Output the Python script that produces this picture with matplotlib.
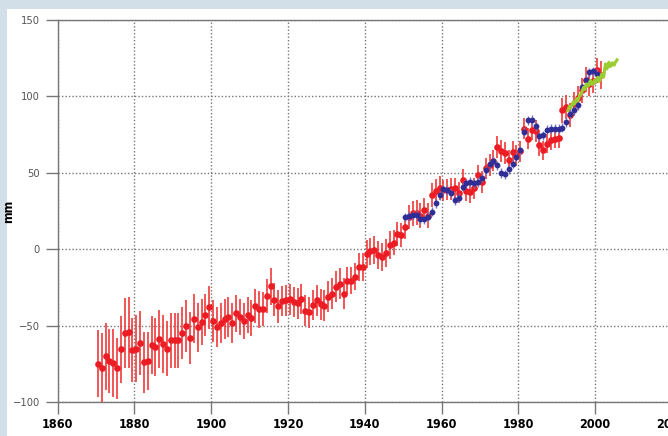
import numpy as np
import matplotlib.pyplot as plt
from matplotlib.patches import Rectangle

plt.rcParams['font.family'] = ['DejaVu Sans']
plt.rcParams['font.stretch'] = 'condensed'

# Reconstruction (red), annual values 1870-2001
red_years = np.arange(1870, 2002)
red_mm = [
    -75, -78, -70, -73, -74.5, -78, -65.5, -55, -54.5, -66,
    -65, -61.5, -74, -73, -62.5, -64, -59, -62, -65, -59.5,
    -59.5, -59.5, -55, -50, -58, -45.5, -51, -47.5, -43, -38,
    -47, -51, -48.5, -45.5, -44.4, -48.3, -42, -44.4, -47, -43,
    -45, -37, -39.3, -39, -30.7, -24.4, -33, -37.4, -34, -33.5,
    -32.8, -34.6, -35.5, -32.5, -40.3, -41.4, -36.4, -33.5, -36.1, -37,
    -31, -29, -24.5, -22.6, -29, -20.5, -20.5, -17.9, -11.7, -11.7,
    -3.1, -1.5, -0.5, -3.9, -5, -2.6, 2.6, 4.3, 10, 9.3,
    14.7, 21, 23.5, 24, 22, 25.6, 22, 35.4, 38, 40,
    38.5, 39, 39.5, 39.8, 37, 45.2, 38.3, 37.5, 39.8, 48.4,
    44, 53, 55, 58, 66.9, 64.3, 63, 58.2, 63.6, 61.5,
    64, 78.9, 72.3, 78.2, 77.3, 68, 64.7, 69.1, 71.2, 72.3,
    73, 90.8, 93, 88, 95, 99, 104, 111, 108, 110,
    117, 114,
]
red_err = [
    22, 23, 22, 21, 22, 20, 22, 23, 23, 21,
    22, 21, 20, 19, 19, 19, 19, 19, 18, 18,
    18, 18, 17, 17, 17, 16, 16, 15, 14, 14,
    14, 13, 13, 13, 13, 13, 12, 12, 12, 12,
    12, 11, 12, 11, 11, 12, 11, 11, 10, 10,
    10, 10, 10, 10, 10, 10, 10, 10, 10, 10,
    10, 10, 10, 10, 10, 9, 9, 9, 9, 9,
    9, 9, 9, 9, 9, 9, 9, 8, 8, 8,
    8, 8, 8, 8, 8, 8, 8, 8, 8, 8,
    7, 7, 7, 7, 7, 7, 7, 7, 7, 7,
    7, 7, 7, 7, 7, 7, 7, 7, 7, 7,
    7, 7, 7, 7, 7, 7, 6, 6, 6, 6,
    7, 8, 8, 8, 8, 8, 8, 8, 8, 8,
    8, 9,
]

# Tide gauge series (blue), 1950-2000
blue_years = np.arange(1950, 2001)
blue_mm = [
    20.8, 21.7, 22.1, 22.5, 19.5, 19.5, 21.2, 24.5, 30, 35.4,
    39.1, 38.7, 36.5, 32.1, 33.6, 40.8, 43, 44, 43, 44,
    46.9, 51.7, 55.6, 57.8, 54.8, 49.9, 49.1, 52.2, 56, 60.4,
    64.7, 76.7, 84.3, 84.5, 80.5, 74, 74.5, 78.2, 78.9, 78.9,
    78.9, 79.5, 83.2, 88.7, 90.8, 94.1, 106, 110.8, 115.8, 116.4,
    114.7,
]
blue_err = [3] * len(blue_mm)

# Satellite altimetry (green)
green_t = [1992.9, 1993.3, 1993.6, 1994.0, 1994.3, 1994.6, 1994.9, 1995.2,
           1995.5, 1995.7, 1996.0, 1996.4, 1996.7, 1997.0, 1997.3, 1997.7,
           1998.0, 1998.3, 1998.6, 1998.8, 1999.1, 1999.5, 1999.8, 2000.1,
           2000.4, 2000.7, 2001.0, 2001.2, 2001.5, 2001.8, 2002.1, 2002.3,
           2002.5, 2002.7, 2002.9, 2003.1, 2003.4, 2003.6, 2003.9, 2004.2,
           2004.5, 2004.7, 2005.0, 2005.2, 2005.5, 2005.7]
green_mm = [90.8, 93.5, 92.5, 94.1, 96.5, 95.0, 96.2, 98.5,
            97.2, 98.4, 101.0, 101.7, 104.0, 106.0, 104.5, 108.2,
            106.5, 107.1, 109.5, 110.4, 107.8, 108.2, 110.5, 109.3,
            111.0, 112.5, 109.8, 110.4, 113.0, 114.7, 112.5, 113.6,
            118.0, 121.2, 119.0, 118.0, 121.0, 122.3, 119.5, 120.1,
            122.0, 121.2, 120.5, 122.1, 123.0, 123.9]

x_ticks = [1860, 1880, 1900, 1920, 1940, 1960, 1980, 2000, 2020]
y_ticks = [-100, -50, 0, 50, 100, 150]

fig = plt.figure(figsize=(6.68, 4.36), dpi=100)
fig.patch.set_facecolor('#d3dfe8')

# white panel behind the chart
bg = fig.add_axes([7 / 668, 0, 1, 1 - 9 / 436], zorder=-10)
bg.add_patch(Rectangle((0, 0), 1, 1, transform=bg.transAxes,
                       facecolor='white', edgecolor='none'))
bg.axis('off')

ax = fig.add_axes([57.5 / 668, 34 / 436, 614.4 / 668, 382 / 436], zorder=1)
ax.set_facecolor('white')

ax.errorbar(red_years + 0.5, red_mm, yerr=red_err, fmt='o', color='#ec1c24',
            ecolor='#f03a3a', elinewidth=1.2, capsize=3.0, capthick=1.5,
            markersize=4.8, markeredgewidth=0, zorder=3)
ax.errorbar(blue_years + 0.5, blue_mm, yerr=blue_err, fmt='o', color='#2e2e96',
            ecolor='#7777c4', elinewidth=1.0, capsize=2.4, capthick=1.2,
            markersize=4.2, markeredgewidth=0, zorder=4)
ax.plot(green_t, green_mm, color='#9acd32', lw=2.2, zorder=5)

ax.set_xlim(1860, 2020)
ax.set_ylim(-100, 150)
ax.set_xticks(x_ticks)
ax.set_yticks(y_ticks)
ax.grid(True, linestyle=(0, (1, 1.5)), color='#777777', linewidth=1.0, zorder=1)
ax.set_axisbelow(True)

for side in ['left', 'bottom', 'top']:
    ax.spines[side].set_color('#777777')
    ax.spines[side].set_linewidth(1.0)
ax.spines['right'].set_visible(False)

ax.tick_params(axis='y', length=8.6, width=1.0, color='#777777', pad=4,
               labelsize=8, labelcolor='#555555')
ax.tick_params(axis='x', length=8.6, width=1.0, color='#777777', pad=3,
               labelsize=9)
for lbl in ax.get_xticklabels():
    lbl.set_fontweight('bold')

ax.set_ylabel('mm', fontsize=9, fontweight='bold')
ax.yaxis.set_label_coords(-0.069, 0.5)

fig.savefig('out.png', dpi=100, facecolor=fig.get_facecolor())
